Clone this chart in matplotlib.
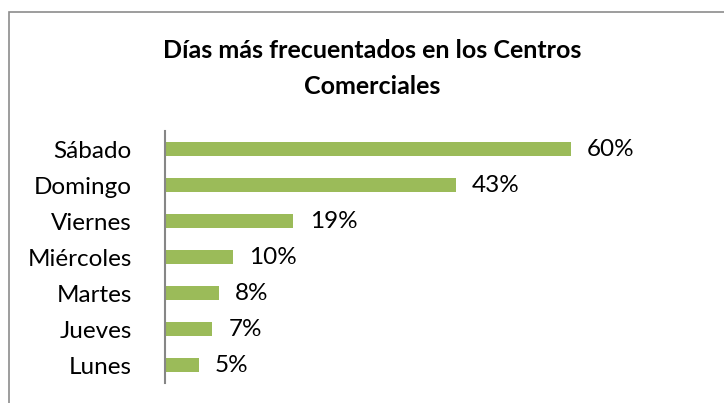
import matplotlib.pyplot as plt
from matplotlib.patches import Rectangle

dias = ['Sábado', 'Domingo', 'Viernes', 'Miércoles', 'Martes', 'Jueves', 'Lunes']
porcentajes = [60, 43, 19, 10, 8, 7, 5]
etiquetas = ['60%', '43%', '19%', '10%', '8%', '7%', '5%']

plt.rcParams['font.family'] = ['Lato', 'DejaVu Sans']

W, H = 724, 403
fig = plt.figure(figsize=(W / 100, H / 100), dpi=100)

# marco del gráfico (se sale por la derecha y por abajo)
fig.patches.append(Rectangle((9 / W, -0.05), 1.0, 1.05 - 12 / H,
                             transform=fig.transFigure, fill=False,
                             edgecolor='#8c8c8c', linewidth=1.2))

ax = fig.add_axes([165 / W, 1 - 383 / H, 541 / W, 252 / H])
pos = list(range(len(dias)))[::-1]
ax.barh(pos, porcentajes, height=0.39, color='#9BBB59')
ax.set_xlim(0, 80)
ax.set_ylim(-0.5, len(dias) - 0.5)
ax.set_yticks(pos)
ax.set_yticklabels(dias, fontsize=17.5)
ax.tick_params(axis='y', length=0, pad=24)
ax.set_xticks([])
for s in ['top', 'right', 'bottom']:
    ax.spines[s].set_visible(False)
ax.spines['left'].set_color('#868686')
ax.spines['left'].set_linewidth(1.5)

for p, v, t in zip(pos, porcentajes, etiquetas):
    ax.text(v + 2.4, p, t, va='center', ha='left', fontsize=17.5)

fig.text(372 / W, 1 - 51 / H, 'Días más frecuentados en los Centros',
         ha='center', va='center', fontsize=18, fontweight='bold')
fig.text(372 / W, 1 - 86 / H, 'Comerciales',
         ha='center', va='center', fontsize=18, fontweight='bold')

fig.savefig('out.png', dpi=100)
